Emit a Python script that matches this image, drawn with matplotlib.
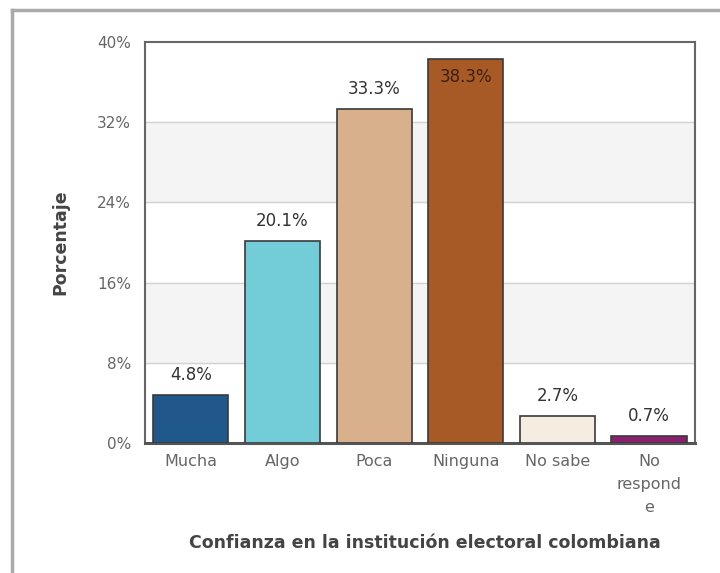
import matplotlib.pyplot as plt
from matplotlib.lines import Line2D

categorias = ["Mucha", "Algo", "Poca", "Ninguna", "No sabe", "No\nrespond\ne"]
porcentajes = [4.8, 20.1, 33.3, 38.3, 2.7, 0.7]
colores = ["#21588b", "#72cdd9", "#d8b08c", "#a85a26", "#f6ede2", "#8b2070"]
yticks = [0, 8, 16, 24, 32, 40]

fig = plt.figure(figsize=(7.2, 5.73), dpi=100)
ax = fig.add_axes([0.2014, 0.2269, 0.7636, 0.6998])

# bandas alternas de fondo
for lo, hi in [(8, 16), (24, 32)]:
    ax.axhspan(lo, hi, color="#f4f4f4", zorder=0)
for y in yticks[1:-1]:
    ax.axhline(y, color="#d2d2d2", lw=1, zorder=1)

x = range(len(categorias))
bars = ax.bar(x, porcentajes, width=0.82, color=colores,
              edgecolor="#3a3a3a", linewidth=1.2, zorder=3)

for b, v in zip(bars, porcentajes):
    cx = b.get_x() + b.get_width() / 2
    if v > 36:
        ax.text(cx, v - 0.9, f"{v}%", ha="center", va="top",
                fontsize=12, color="#3a2010", zorder=4)
    else:
        ax.text(cx, v + 1.1, f"{v}%", ha="center", va="bottom",
                fontsize=12, color="#333333", zorder=4)

ax.set_xlim(-0.5, len(categorias) - 0.5)
ax.set_ylim(0, 40)
ax.set_yticks(yticks)
ax.set_yticklabels([f"{t}%" for t in yticks], fontsize=11)
ax.set_xticks(list(x))
ax.set_xticklabels(categorias, linespacing=1.65, fontsize=11.5)
ax.tick_params(axis="both", length=0, labelcolor="#666666")
ax.tick_params(axis="y", pad=10)
ax.tick_params(axis="x", pad=8)

for s in ax.spines.values():
    s.set_color("#666666")
    s.set_linewidth(1.5)
ax.spines["bottom"].set_linewidth(2.2)
ax.spines["bottom"].set_color("#555555")

ax.set_ylabel("Porcentaje", fontsize=12.5, fontweight="bold", color="#444444", labelpad=20)
fig.text(0.59, 0.052, "Confianza en la institución electoral colombiana",
         ha="center", va="center", fontsize=12.5, fontweight="bold", color="#444444")

# marco gris exterior
fig.add_artist(Line2D([12 / 720, 1], [1 - 10 / 573, 1 - 10 / 573],
                      transform=fig.transFigure, color="#aaaaaa", lw=2.5))
fig.add_artist(Line2D([12 / 720, 12 / 720], [0, 1 - 10 / 573],
                      transform=fig.transFigure, color="#aaaaaa", lw=2.5))

fig.savefig("out.png", dpi=100)
